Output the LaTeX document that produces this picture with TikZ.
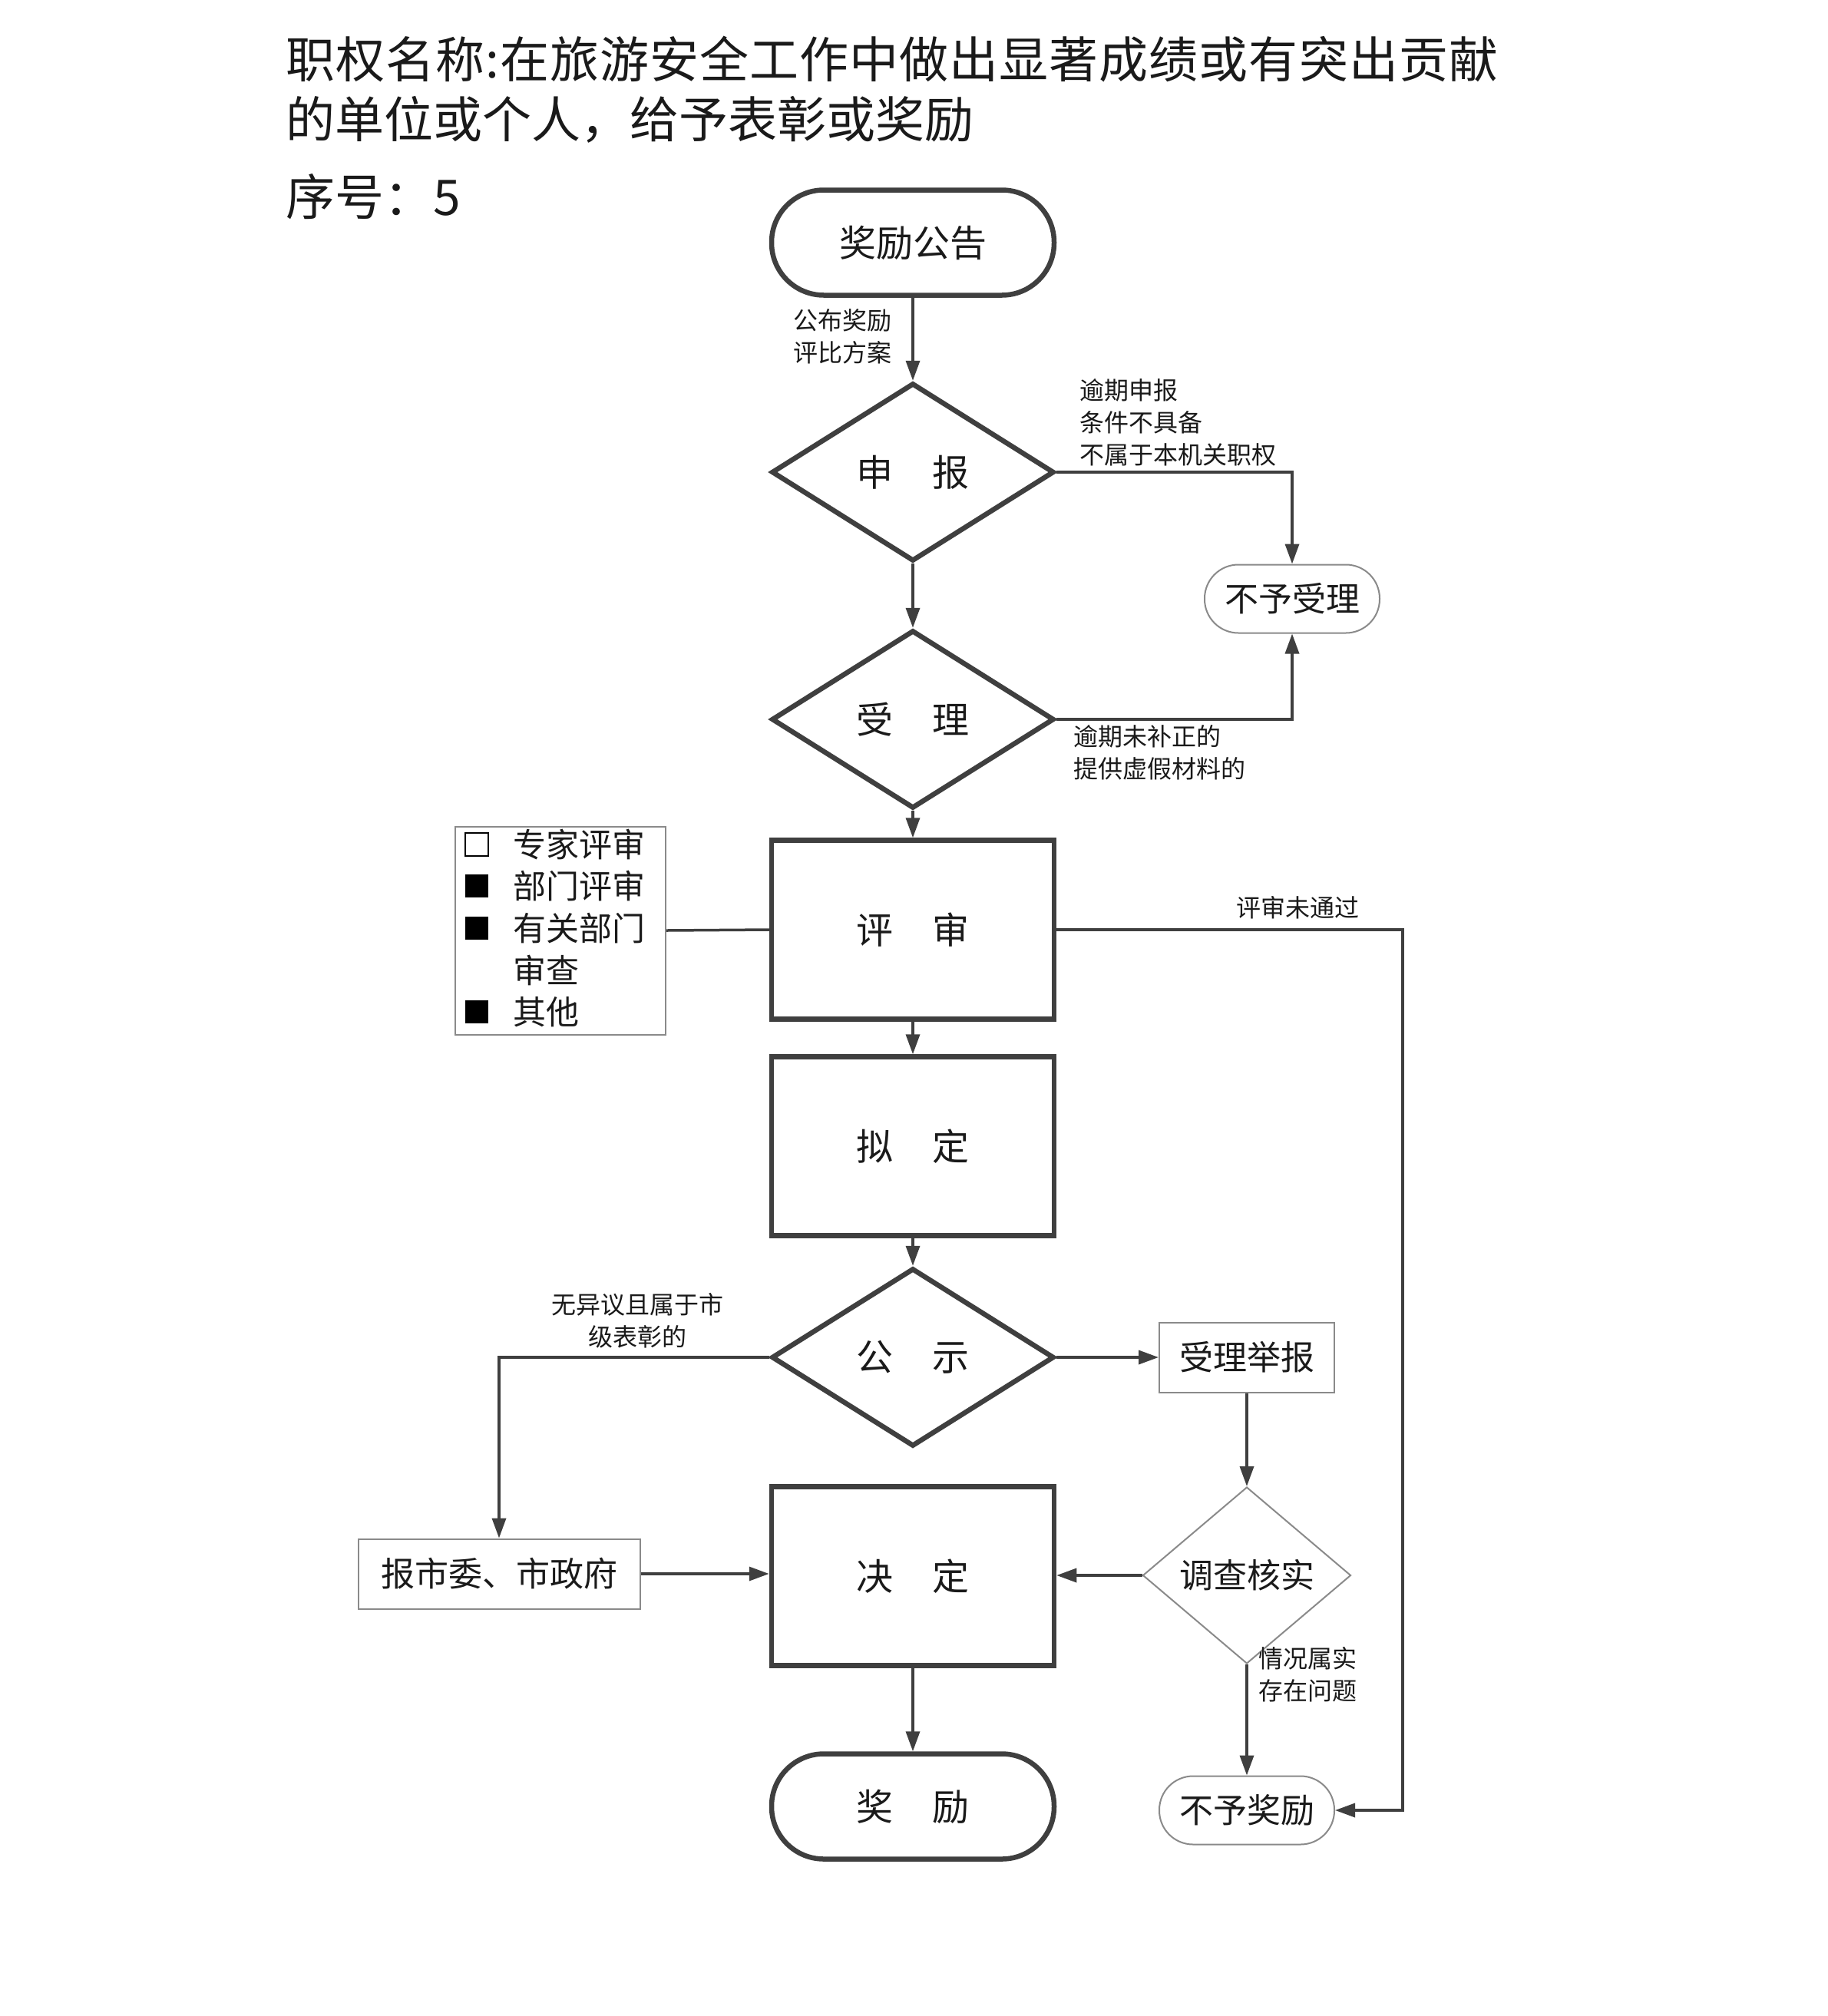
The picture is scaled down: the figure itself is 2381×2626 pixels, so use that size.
\documentclass[tikz,border=0pt]{standalone}
\usepackage{fontspec}
\setmainfont{Noto Sans CJK SC}
\usetikzlibrary{shapes.geometric,arrows.meta}
\definecolor{lc}{HTML}{3F3F3F}
\definecolor{thin}{HTML}{8A8A8A}
\definecolor{tc}{HTML}{1A1A1A}
\newcommand\fs[2]{\fontsize{#1}{#2}\selectfont}
\def\spreadchars#1{\ifx#1\relax\else#1\hfil\expandafter\spreadchars\fi}
\begin{document}
\begin{tikzpicture}[x=1pt,y=-1pt,
 every node/.style={text=tc},
 conn/.style={draw=lc,line width=3.5pt},
 arr/.style={conn,-{Triangle[length=26pt,width=18pt]}},
 bigbox/.style={draw=lc,line width=6.5pt,rectangle,minimum width=368pt,minimum height=233pt,inner sep=0pt,font=\fs{48}{56}},
 bigdia/.style={draw=lc,line width=6.5pt,diamond,aspect=1.586,minimum width=368pt,minimum height=232pt,inner sep=0pt,font=\fs{48}{56}},
 bigend/.style={draw=lc,line width=6.5pt,rectangle,rounded corners=68pt,minimum width=368pt,minimum height=137pt,inner sep=0pt,font=\fs{48}{56}},
 smallend/.style={draw=thin,line width=2pt,rectangle,rounded corners=44pt,minimum width=228pt,minimum height=89pt,inner sep=0pt,font=\fs{44}{50}},
 smallbox/.style={draw=thin,line width=2pt,rectangle,minimum height=91pt,inner sep=0pt,font=\fs{44}{50}},
 lbl/.style={font=\fs{32}{42},align=left,inner sep=0pt},
 sq/.style={minimum size=30pt,inner sep=0pt},
 lgt/.style={anchor=west,font=\fs{43}{50},inner sep=0pt},
]
\path[fill=white] (0,0) rectangle (2381,2626);

% title
\node[anchor=west,inner sep=0pt,font=\fs{64}{80}] (t1) at (372,77) {\makebox[1579pt][s]{\spreadchars 职权名称:在旅游安全工作中做出显著成绩或有突出贡献\relax\unskip}};
\node[anchor=west,inner sep=0pt,font=\fs{64}{80}] (t2) at (372,156) {的单位或个人，给予表彰或奖励};
\node[anchor=west,inner sep=0pt,font=\fs{64}{80}] (t3) at (372,256) {序号：5};

% main column
\node[bigend] (gg) at (1189,316) {奖励公告};
\node[bigdia] (sb) at (1189,615) {申\hspace{52pt}报};
\node[bigdia] (sl) at (1189,937) {受\hspace{52pt}理};
\node[bigbox] (ps) at (1189,1211) {评\hspace{52pt}审};
\node[bigbox] (nd) at (1189,1493) {拟\hspace{52pt}定};
\node[bigdia] (gs) at (1189,1768) {公\hspace{52pt}示};
\node[bigbox] (jd) at (1189,2053) {决\hspace{52pt}定};
\node[bigend] (jl) at (1189,2353) {奖\hspace{52pt}励};

% side nodes
\node[smallend] (byl) at (1683,780) {不予受理};
\node[smallend] (bjl) at (1624,2358) {不予奖励};
\node[smallbox,minimum width=228pt] (jb) at (1624,1768) {受理举报};
\node[smallbox,minimum width=367pt] (bsw) at (650,2050) {报市委、市政府};
\node[draw=thin,line width=2pt,diamond,aspect=1.18,minimum width=271pt,minimum height=230pt,inner sep=0pt,font=\fs{44}{50}] (dc) at (1624,2052) {调查核实};

% legend
\node[draw=thin,line width=2pt,minimum width=274pt,minimum height=271pt,inner sep=0pt] (lg) at (730,1212) {};
\node[sq,draw=black,line width=1.5pt] (q1) at (621,1100) {};
\node[sq,fill=black] (q2) at (621,1154) {};
\node[sq,fill=black] (q3) at (621,1209) {};
\node[sq,fill=black] (q4) at (621,1318) {};
\node[lgt] (l1) at (668,1100) {专家评审};
\node[lgt] (l2) at (668,1154) {部门评审};
\node[lgt] (l3) at (668,1209) {有关部门};
\node[lgt] (l4) at (668,1264) {审查};
\node[lgt] (l5) at (668,1318) {其他};

% connectors
\draw[arr] (gg.south) -- (sb.north);
\node[lbl,anchor=west] (a1) at (1033,438) {公布奖励\\评比方案};
\draw[arr] (sb.east) -| (byl.north);
\node[lbl,anchor=west] (a2) at (1406,550) {逾期申报\\条件不具备\\不属于本机关职权};
\draw[arr] (sb.south) -- (sl.north);
\draw[arr] (sl.east) -| (byl.south);
\node[lbl,anchor=west] (a3) at (1398,980) {逾期未补正的\\提供虚假材料的};
\draw[arr] (sl.south) -- (ps.north);
\draw[conn] (lg.east) -- (ps.west);
\coordinate (rc) at (1827,1211);
\draw[arr] (ps.east) -- (rc) |- (bjl.east);
\node[lbl] (a4) at (1690,1182) {评审未通过};
\draw[arr] (ps.south) -- (nd.north);
\draw[arr] (nd.south) -- (gs.north);
\draw[arr] (gs.west) -| (bsw.north);
\node[lbl,align=center] (a5) at (830,1720) {无异议且属于市\\级表彰的};
\draw[arr] (gs.east) -- (jb.west);
\draw[arr] (bsw.east) -- (bsw.east -| jd.west);
\draw[arr] (jb.south) -- (dc.north);
\draw[arr] (dc.west) -- (dc.west -| jd.east);
\draw[arr] (dc.south) -- (bjl.north);
\node[lbl,anchor=west] (a6) at (1639,2181) {情况属实\\存在问题};
\draw[arr] (jd.south) -- (jl.north);
\end{tikzpicture}
\end{document}
